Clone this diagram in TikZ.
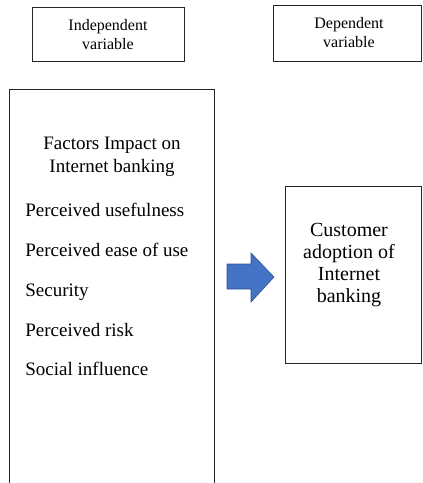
\documentclass[tikz,border=0pt]{standalone}
\usepackage{fontspec}
\setmainfont{Liberation Serif}
\definecolor{arrowfill}{HTML}{4472C4}
\definecolor{arrowline}{HTML}{2F528F}
\begin{document}
\begin{tikzpicture}[x=1pt,y=-1pt,line width=0.8pt,
	box/.style={draw=black!85},
	lbl/.style={font=\fontsize{16}{19}\selectfont,align=center,inner sep=0pt},
	title/.style={font=\fontsize{19}{23}\selectfont,align=center,inner sep=0pt},
	item/.style={font=\fontsize{19}{23}\selectfont,anchor=base west,inner sep=0pt}]
		\useasboundingbox (0,0) rectangle (423,483);
		% headings
		\draw[box] (32,7) rectangle (184,61);
		\node[lbl] (indep) at (108,35) {Independent\\variable};
		\draw[box] (273,5) rectangle (421,61);
		\node[lbl] (dep) at (349,33) {Dependent\\variable};
		% factors
		\draw[box] (9,483) -- (9,89) -- (214,89) -- (214,483);
		\node[title] (factors) at (112,157) {Factors Impact on\\Internet banking};
		\node[item] (useful) at (25,216.5) {Perceived usefulness};
		\node[item] (ease) at (25,256.5) {Perceived ease of use};
		\node[item] (security) at (25,296.5) {Security};
		\node[item] (risk) at (25,336.5) {Perceived risk};
		\node[item] (social) at (25,375.5) {Social influence};
		% arrow
		\draw[fill=arrowfill,draw=arrowline,line width=0.6pt] (227,264) -- (251,264) -- (251,253)
			-- (274,277) -- (251,302) -- (251,289) -- (227,289) -- cycle;
		% adoption
		\draw[box] (285,186) rectangle (421,363);
		\node[title,font=\fontsize{20}{22}\selectfont] (adoption) at (349,265) {Customer\\adoption of\\Internet\\banking};
\end{tikzpicture}
\end{document}
